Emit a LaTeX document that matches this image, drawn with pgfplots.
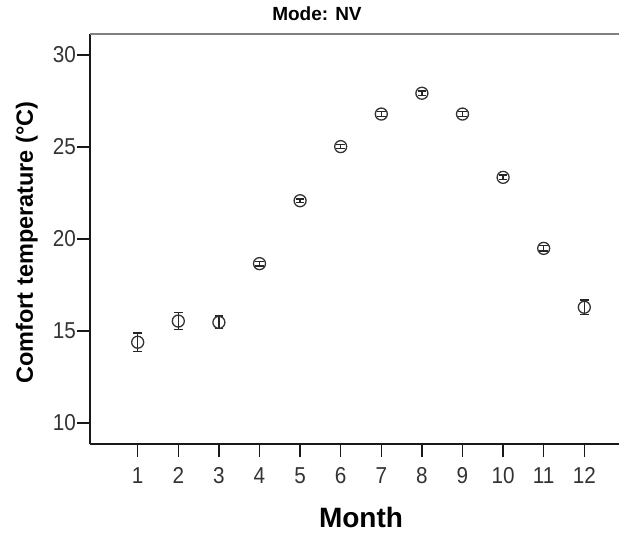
\documentclass[border=0pt]{standalone}
\usepackage{fontspec}
\setmainfont{Liberation Sans}
\newfontfamily\tickfont[FakeStretch=0.9]{Liberation Sans}
\usepackage{pgfplots}
\pgfplotsset{compat=1.18}
\usetikzlibrary{calc}

\pgfplotstableread{
x y e
1 14.39 0.50
2 15.54 0.45
3 15.47 0.35
4 18.66 0.13
5 22.08 0.10
6 25.02 0.10
7 26.79 0.12
8 27.92 0.12
9 26.79 0.12
10 23.35 0.12
11 19.49 0.15
12 16.29 0.39
}\datatable

\begin{document}
\begin{tikzpicture}
\begin{axis}[
  name=ax,
  scale only axis,
  width=542bp, height=410bp,
  xmin=-0.175, xmax=13.175,
  ymin=8.86, ymax=31.14,
  xtick={1,2,...,12},
  ytick={10,15,20,25,30},
  axis x line*=bottom,
  axis y line*=left,
  axis line style={-, black!90, line width=1.3bp},
  tick align=outside,
  major tick length=13bp,
  tick style={black!90, line width=1.3bp},
  /pgf/number format/assume math mode=true,
  tick label style={font=\tickfont\fontsize{23bp}{26bp}\selectfont, text=black!80},
  yticklabel style={inner sep=1bp},
  xticklabel style={inner sep=0bp, yshift=-10bp},
  title={Mode: NV},
  title style={font=\bfseries\fontsize{19bp}{22bp}\selectfont, at={(axis description cs:0.4188,1)}, anchor=base, yshift=8bp, inner sep=0pt},
  xlabel={Month},
  xlabel style={font=\bfseries\fontsize{28bp}{32bp}\selectfont, at={(axis description cs:0.5,0)}, anchor=base, yshift=-83bp, inner sep=0pt},
  ylabel={Comfort temperature (°C)},
  ylabel style={font=\bfseries\fontsize{23.5bp}{27bp}\selectfont, at={(axis description cs:-0.1052,0.4915)}, anchor=base, inner sep=0pt},
  clip=false,
]
\draw[black!50, line width=2bp] (rel axis cs:0,1) -- (rel axis cs:1,1);
\addplot[
  only marks,
  mark=o,
  mark size=6bp,
  mark options={black!80, line width=1.3bp},
  error bars/.cd,
    y dir=both, y explicit,
    error mark=|,
    error mark options={black!85, mark size=4.3bp, line width=1.3bp},
    error bar style={black!85, line width=1.3bp},
] table[x=x, y=y, y error=e] {\datatable};
\end{axis}
\pgfresetboundingbox
\path[use as bounding box] ($(ax.south west)+(-90bp,-89bp)$) rectangle ($(ax.south west)+(529bp,444bp)$);
\end{tikzpicture}
\end{document}
